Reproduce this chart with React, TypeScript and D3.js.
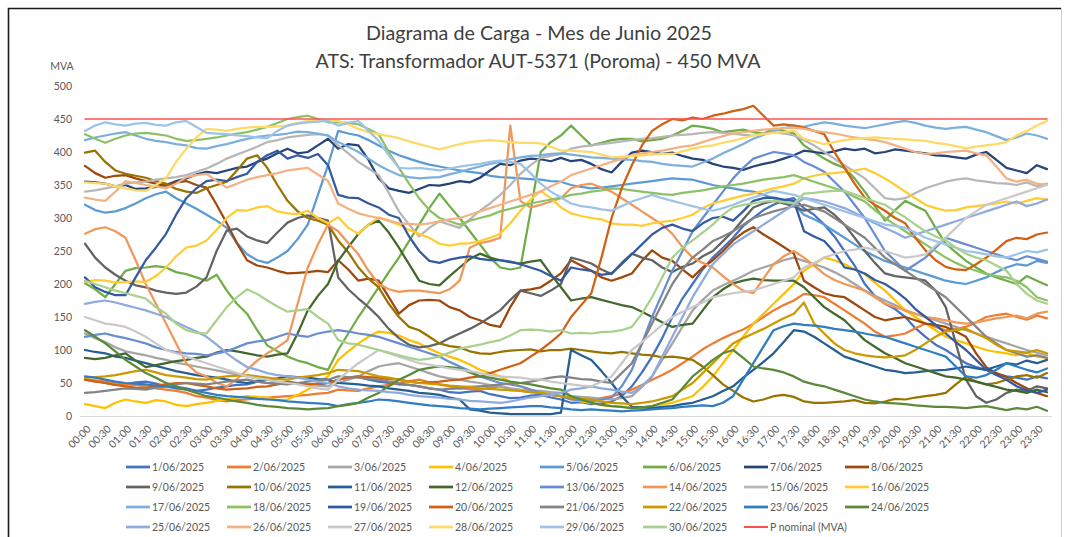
import React from "react";
import * as d3 from "d3";

const TITLE_1 = "Diagrama de Carga - Mes de Junio 2025";
const TITLE_2 = "ATS: Transformador AUT-5371 (Poroma) - 450 MVA";
const Y_UNIT = "MVA";
const Y_TICKS = [0, 50, 100, 150, 200, 250, 300, 350, 400, 450, 500];
const P_NOMINAL = 450;

const CATEGORIES = [
  "00:00","00:15","00:30","00:45","01:00","01:15","01:30","01:45","02:00","02:15","02:30","02:45",
  "03:00","03:15","03:30","03:45","04:00","04:15","04:30","04:45","05:00","05:15","05:30","05:45",
  "06:00","06:15","06:30","06:45","07:00","07:15","07:30","07:45","08:00","08:15","08:30","08:45",
  "09:00","09:15","09:30","09:45","10:00","10:15","10:30","10:45","11:00","11:15","11:30","11:45",
  "12:00","12:15","12:30","12:45","13:00","13:15","13:30","13:45","14:00","14:15","14:30","14:45",
  "15:00","15:15","15:30","15:45","16:00","16:15","16:30","16:45","17:00","17:15","17:30","17:45",
  "18:00","18:15","18:30","18:45","19:00","19:15","19:30","19:45","20:00","20:15","20:30","20:45",
  "21:00","21:15","21:30","21:45","22:00","22:15","22:30","22:45","23:00","23:15","23:30","23:45"
];

const TICK_LABELS = [
  "00:00","00:30","01:00","01:30","02:00","02:30","03:00","03:30","04:00","04:30","05:00","05:30",
  "06:00","06:30","07:00","07:30","08:00","08:30","09:00","09:30","10:00","10:30","11:00","11:30",
  "12:00","12:30","13:00","13:30","14:00","14:30","15:00","15:30","16:00","16:30","17:00","17:30",
  "18:00","18:30","19:00","19:30","20:00","20:30","21:00","21:30","22:00","22:30","23:00","23:30"
];

const S01 = [55,53,50,47,48,51,52,49,45,44,42,38,40,43,45,47,48,52,50,49,52,50,48,47,50,55,58,60,55,52,50,48,47,45,42,40,36,35,37,38,33,30,27,28,31,32,28,25,20,21,18,19,22,30,45,66,90,118,150,178,200,222,240,255,270,288,300,312,320,327,330,315,305,290,272,250,228,200,182,170,162,150,133,120,108,100,90,80,74,70,64,60,58,55,60,57];
const S02 = [55,54,52,49,48,47,45,42,40,38,35,30,28,24,22,24,25,27,28,29,30,31,32,34,35,40,39,38,42,45,47,50,53,55,51,48,45,42,41,40,43,45,41,38,36,35,32,30,28,27,25,27,30,34,40,47,55,62,70,80,90,101,110,118,125,131,140,150,160,168,175,185,183,180,170,160,150,140,128,120,122,125,133,140,135,130,132,135,142,150,153,155,150,146,152,148];
const S03 = [125,118,112,104,98,95,92,88,85,81,78,75,72,69,66,63,60,57,55,52,50,49,48,46,45,50,55,60,68,75,78,80,75,70,65,60,57,55,52,50,47,45,42,40,39,38,36,35,30,29,28,26,25,27,30,44,60,85,110,135,160,176,190,198,205,212,220,225,230,236,240,235,230,225,218,210,200,190,182,175,168,160,155,150,145,140,135,130,125,120,115,110,105,100,96,92];
const S04 = [18,15,12,20,25,22,20,24,22,17,15,18,20,23,25,28,30,29,28,24,25,32,40,50,60,85,98,110,120,128,126,122,115,110,102,95,90,85,78,70,65,60,52,45,40,35,33,30,25,22,20,17,15,14,12,13,15,18,20,25,30,44,60,80,100,120,140,155,170,185,200,220,230,240,236,230,222,215,202,190,175,160,150,140,130,120,115,110,105,100,97,95,92,96,90,88];
const S05 = [320,312,308,310,315,322,330,336,340,330,322,314,305,296,285,262,245,236,232,240,250,268,290,335,380,432,428,425,418,410,402,395,390,385,381,378,375,372,370,368,364,362,361,360,359,358,356,355,350,347,345,346,348,350,352,354,356,358,360,359,358,354,350,347,345,342,340,335,330,325,320,305,298,290,280,270,260,250,242,235,230,225,220,215,210,205,202,200,205,210,218,225,230,228,235,232];
const S06 = [201,192,180,200,220,224,225,227,225,218,215,210,205,214,190,170,155,130,107,98,90,84,80,74,70,100,125,150,172,195,218,240,265,290,315,337,318,300,280,260,240,225,222,225,310,400,415,425,440,425,410,414,418,420,420,416,418,420,425,432,440,438,435,430,432,434,430,428,435,432,428,410,400,390,382,376,360,340,318,296,312,326,318,311,285,261,248,235,225,216,210,205,200,212,205,198];
const S07 = [355,354,352,348,350,344,345,347,350,356,360,366,370,368,372,376,378,385,390,398,405,398,400,410,420,405,412,410,388,360,345,341,338,344,350,349,352,356,354,361,372,382,380,387,390,389,386,391,386,388,382,374,369,385,399,402,400,397,399,394,390,388,382,378,376,373,378,382,385,390,395,402,400,398,401,405,403,405,398,400,404,402,400,398,395,394,392,390,396,400,388,376,372,368,380,374];
const S08 = [379,368,361,364,365,360,356,352,349,354,356,350,346,320,292,262,236,228,225,220,216,217,218,220,218,236,222,205,208,205,180,155,168,175,176,175,165,160,150,145,138,135,165,190,192,195,205,216,236,228,220,210,205,210,216,235,251,240,235,222,210,225,236,250,266,278,286,275,266,256,246,205,195,186,182,180,170,160,150,145,148,150,145,140,138,135,128,120,95,74,65,59,50,42,35,30];
const S09 = [261,240,225,214,205,198,195,190,187,185,187,196,210,250,281,284,272,266,262,278,293,300,304,300,296,210,192,178,165,150,132,118,108,104,106,110,118,125,132,140,150,160,176,190,186,182,190,200,240,236,231,222,215,232,246,240,236,225,218,226,231,242,250,265,280,298,316,322,326,322,318,311,314,316,305,290,270,250,232,216,212,210,208,205,190,165,110,55,30,20,25,35,40,38,45,42];
const S10 = [399,402,385,372,367,364,361,356,352,344,340,338,345,350,355,372,390,395,376,350,326,310,300,296,290,266,248,225,208,195,170,150,135,130,120,110,106,104,98,95,94,97,99,100,101,98,100,100,102,100,98,96,95,97,95,93,92,89,90,88,85,75,62,48,38,28,22,25,30,32,29,22,20,20,21,22,24,20,19,22,26,25,28,30,32,35,48,60,52,48,50,55,60,62,58,65];
const S11 = [100,97,95,90,88,84,80,76,72,68,65,62,60,58,55,52,50,53,55,57,60,59,58,56,55,50,49,48,46,45,42,40,38,35,34,32,28,25,10,8,5,4,3,3,3,3,3,5,100,92,85,68,50,30,14,13,12,14,15,18,20,25,30,38,45,58,70,82,95,112,130,128,120,110,100,90,85,80,75,70,68,65,66,68,69,70,72,75,72,70,75,80,78,84,80,85];
const S12 = [88,86,88,92,95,84,74,77,80,83,85,88,90,96,100,98,95,92,90,93,95,125,160,182,200,235,256,276,290,296,278,255,230,205,200,198,212,225,238,246,240,236,233,231,234,236,215,195,175,178,180,176,172,168,165,158,150,142,135,138,140,160,180,192,201,205,208,206,205,205,205,195,180,165,155,145,130,115,105,95,88,80,75,70,65,60,58,55,52,48,44,40,38,35,40,36];
const S13 = [120,123,125,121,118,114,110,104,100,97,95,94,92,95,98,104,110,113,115,120,125,122,120,125,128,130,128,125,123,120,115,110,105,100,95,90,82,75,68,60,55,50,48,45,40,35,32,30,25,24,22,25,28,45,70,110,150,185,220,250,280,300,320,340,360,376,390,395,400,398,395,385,378,370,355,340,320,300,275,250,235,220,230,240,255,270,265,260,255,250,245,240,236,242,238,234];
const S14 = [276,283,286,280,270,236,200,170,140,110,80,66,60,50,45,56,70,84,95,104,115,170,225,260,290,280,262,245,220,200,192,188,190,190,188,186,192,205,255,262,265,270,440,326,316,320,325,330,345,350,352,346,340,330,320,310,300,290,276,256,240,232,225,212,200,190,186,208,230,242,250,240,228,215,206,200,195,190,180,170,165,160,155,150,148,145,142,140,142,145,148,150,152,148,155,158];
const S15 = [340,342,345,348,352,354,355,358,360,362,365,370,375,382,390,396,402,408,415,418,422,424,426,427,425,410,398,385,375,365,338,310,290,272,285,295,290,285,298,311,322,335,350,367,380,391,394,397,405,408,410,412,414,416,418,420,421,423,425,426,427,429,430,429,428,426,425,428,430,428,425,418,410,400,390,380,370,360,345,330,328,330,338,345,350,355,358,360,357,355,353,352,350,354,348,352];
const S16 = [203,206,205,202,203,204,203,212,225,242,255,258,266,282,300,312,311,316,318,310,307,306,311,300,292,301,285,276,290,301,296,290,282,276,270,261,258,261,262,265,270,276,292,311,328,341,330,316,307,303,300,298,292,290,290,288,292,294,296,300,305,315,322,326,330,334,337,341,345,348,352,360,364,367,368,370,372,375,368,360,350,340,330,320,315,311,312,316,318,320,322,325,322,326,330,328];
const S17 = [418,422,425,428,430,425,420,417,415,412,410,406,405,409,412,416,420,423,425,426,428,431,430,428,425,415,408,400,390,380,372,365,362,360,361,362,366,370,374,378,382,385,389,392,394,395,397,398,396,394,392,391,390,389,388,386,385,382,380,379,378,384,390,398,405,412,420,426,432,436,440,438,442,445,443,440,438,436,439,442,445,447,444,440,437,435,437,438,434,430,424,418,422,428,425,420];
const S18 = [427,420,414,420,425,428,429,427,425,420,417,418,420,422,425,428,430,434,438,444,450,453,455,450,445,445,444,442,435,427,400,376,352,330,312,300,295,290,296,300,304,310,314,318,322,325,328,331,335,337,340,342,345,344,342,340,338,336,335,338,340,342,345,348,350,352,355,358,360,362,365,360,355,350,345,340,332,325,312,300,290,280,270,260,250,240,232,225,220,215,212,210,205,195,180,175];
const S19 = [210,195,188,183,183,210,236,255,276,305,330,345,356,358,356,362,367,385,395,402,390,395,391,397,380,335,331,330,322,316,305,300,272,250,235,232,237,240,242,238,236,236,234,230,225,220,212,205,225,222,220,214,216,230,245,260,275,285,290,284,280,292,300,302,296,310,326,330,331,328,326,280,272,265,248,225,222,216,206,200,190,178,162,150,138,125,112,100,85,70,62,55,45,39,35,40];
const S20 = [55,52,50,47,45,43,42,46,48,50,50,47,45,42,40,41,42,44,45,48,50,49,48,49,50,55,58,60,59,58,56,55,52,50,51,52,54,55,58,60,65,70,75,80,90,100,112,125,150,168,186,240,300,345,380,410,432,442,450,448,452,450,455,458,462,465,470,455,440,442,440,437,432,427,400,376,352,331,320,311,300,292,270,251,236,226,222,221,230,240,252,265,270,268,275,278];
const S21 = [35,36,38,40,42,41,40,43,45,48,50,49,48,50,52,54,55,52,50,49,48,50,52,54,55,60,59,58,56,55,52,50,47,45,42,40,41,42,44,45,46,48,49,50,52,55,58,60,58,56,55,52,50,65,80,110,140,170,200,222,240,252,265,272,280,290,300,305,310,314,318,320,315,310,300,290,280,270,255,240,230,220,210,200,190,180,165,150,135,120,110,100,95,90,92,88];
const S22 = [58,59,60,62,65,68,70,66,62,60,58,56,55,58,60,61,62,60,58,56,55,58,60,62,65,70,69,68,64,60,58,55,52,50,49,48,46,45,44,42,41,40,39,38,36,35,32,30,28,26,25,22,20,19,18,20,22,26,30,40,50,65,80,95,110,118,125,132,140,148,155,172,140,125,110,100,95,92,90,89,90,92,100,110,120,128,130,132,125,118,108,100,98,96,100,95];
const S23 = [60,58,55,52,50,49,48,46,45,42,40,38,35,32,30,29,28,26,25,24,22,21,20,19,18,15,18,20,22,25,24,22,20,18,16,15,14,12,11,10,11,12,13,14,15,15,13,12,10,9,10,9,8,7,8,9,10,11,12,14,15,16,15,20,30,55,80,105,130,136,140,138,137,135,132,130,128,125,122,120,115,110,105,100,95,90,75,60,58,62,70,80,75,70,66,72];
const S24 = [130,120,110,98,85,75,65,58,50,45,40,35,30,28,25,22,20,17,15,14,12,11,10,11,12,15,17,20,28,35,45,55,62,70,73,75,74,72,66,60,58,55,52,50,48,45,42,40,30,25,20,17,15,14,12,13,15,20,25,42,60,72,85,95,100,88,75,72,70,66,60,52,48,45,40,35,30,25,22,20,19,18,16,15,14,14,13,12,14,15,12,9,12,10,14,8];
const S25 = [170,173,175,172,168,164,160,155,150,142,135,128,120,108,95,84,74,70,65,62,60,58,55,52,50,45,42,40,39,38,36,35,32,30,29,28,26,25,23,22,21,20,22,25,28,30,32,35,40,42,45,42,40,37,35,45,60,90,120,150,180,205,230,245,260,270,280,290,300,310,320,330,328,325,320,315,308,300,292,285,278,270,275,280,285,290,295,300,305,310,315,320,325,318,322,328];
const S26 = [331,328,326,340,356,353,350,348,345,352,362,365,367,356,346,352,358,362,365,368,372,374,376,366,356,322,314,307,303,300,296,292,291,290,292,295,298,300,305,310,315,320,325,330,335,340,348,355,365,370,375,380,385,390,395,398,400,402,405,408,410,415,420,424,428,430,432,434,435,436,437,435,432,430,428,425,422,420,418,415,410,405,400,397,398,400,401,402,398,395,378,360,355,358,352,350];
const S27 = [150,145,140,138,135,128,120,110,100,95,90,85,80,75,70,65,60,57,55,52,50,48,45,42,40,55,68,80,90,100,95,90,85,80,78,75,72,70,68,65,62,60,59,58,56,55,52,50,48,46,45,52,60,80,100,112,125,138,150,158,165,172,180,183,186,188,190,195,200,205,210,225,232,240,245,250,252,255,252,250,245,240,242,245,258,270,285,300,310,320,325,330,335,340,345,350];
const S28 = [354,353,352,348,345,342,341,350,360,385,405,422,435,434,432,435,437,438,438,439,440,444,447,448,447,447,442,435,430,427,424,421,416,412,408,404,408,412,415,417,418,417,415,414,414,413,408,402,402,401,400,396,392,393,394,395,396,397,397,401,405,408,410,414,417,421,425,427,429,430,432,420,416,412,415,418,420,421,422,421,420,419,418,417,414,412,409,406,408,410,412,415,425,432,440,447];
const S29 = [432,440,445,442,440,443,444,441,440,445,447,438,429,428,427,425,424,422,421,432,440,443,445,446,447,440,444,447,432,417,395,376,375,376,374,372,375,378,380,382,385,387,385,382,368,352,340,331,322,318,316,313,311,318,325,330,335,330,326,322,318,314,311,315,320,326,331,336,341,338,335,330,325,320,315,310,305,300,295,290,288,285,278,270,265,260,255,250,248,245,242,240,245,250,248,252];
const S30 = [205,200,195,190,186,182,178,165,155,140,130,126,125,145,165,180,192,185,175,166,158,160,162,150,140,115,110,108,104,100,96,92,88,85,87,90,96,102,105,108,112,115,122,130,131,130,128,130,125,126,125,127,128,130,135,155,180,210,240,255,266,278,290,305,316,320,322,325,326,324,322,337,338,340,341,341,336,330,325,320,310,301,290,280,272,266,255,246,240,236,228,220,200,185,175,170];

const SERIES_NAMES = [
  "1/06/2025","2/06/2025","3/06/2025","4/06/2025","5/06/2025","6/06/2025","7/06/2025","8/06/2025",
  "9/06/2025","10/06/2025","11/06/2025","12/06/2025","13/06/2025","14/06/2025","15/06/2025","16/06/2025",
  "17/06/2025","18/06/2025","19/06/2025","20/06/2025","21/06/2025","22/06/2025","23/06/2025","24/06/2025",
  "25/06/2025","26/06/2025","27/06/2025","28/06/2025","29/06/2025","30/06/2025"
];
const SERIES_COLORS = [
  "#4472C4","#ED7D31","#A5A5A5","#FFC000","#5B9BD5","#70AD47","#264478","#9E480E",
  "#636363","#997300","#255E91","#43682B","#698ED0","#F1975A","#B7B7B7","#FFCD33",
  "#7CAFDD","#8CC168","#335AA1","#D26012","#848484","#CC9A00","#327DC2","#5A8A39",
  "#8FAADC","#F4B183","#C9C9C9","#FFD966","#9DC3E6","#A9D18E"
];
const SERIES_VALUES = [S01,S02,S03,S04,S05,S06,S07,S08,S09,S10,S11,S12,S13,S14,S15,S16,S17,S18,S19,S20,S21,S22,S23,S24,S25,S26,S27,S28,S29,S30];
const NOMINAL_NAME = "P nominal (MVA)";
const NOMINAL_COLOR = "#FF5050";

const FONT = "Lato, 'Open Sans', 'Liberation Sans', sans-serif";
const TEXT_COLOR = "#595959";

const W = 1067;
const H = 537;
const PLOT = { left: 85, right: 1047, top: 86, bottom: 416 };
const LEGEND_COLS = [126, 227, 328, 429, 540, 643, 744, 845];
const LEGEND_ROWS = [467, 487, 507, 527];

export default function App() {
  const x = d3.scalePoint<string>().domain(CATEGORIES).range([PLOT.left, PLOT.right]);
  const y = d3.scaleLinear().domain([0, 500]).range([PLOT.bottom, PLOT.top]);
  const line = d3
    .line<number>()
    .x((_, i) => x(CATEGORIES[i]) as number)
    .y((d) => y(d));

  const nominal = CATEGORIES.map(() => P_NOMINAL);

  const legendItems = [
    ...SERIES_NAMES.map((n, i) => ({ name: n, color: SERIES_COLORS[i], w: 2.25 })),
    { name: NOMINAL_NAME, color: NOMINAL_COLOR, w: 1.5 },
  ];

  return (
    <svg
      width={W}
      height={H}
      style={{ position: "absolute", left: 0, top: 0, display: "block", background: "#fff" }}
      fontFamily={FONT}
    >
      <rect x={0} y={0} width={W} height={H} fill="#fff" />
      <path d={`M8.5,${H} V8.5 H1061`} fill="none" stroke="#1a1a1a" strokeWidth={1.6} />
      <line x1={1061.5} x2={1061.5} y1={8} y2={H} stroke="#cfcfcf" strokeWidth={1} />

      <text x={539} y={40} textAnchor="middle" fontSize={20} fill="#404040" textLength={346} lengthAdjust="spacingAndGlyphs">
        {TITLE_1}
      </text>
      <text x={538} y={68} textAnchor="middle" fontSize={20} fill="#404040" textLength={445} lengthAdjust="spacingAndGlyphs">
        {TITLE_2}
      </text>

      <text x={62} y={70} textAnchor="middle" fontSize={10.5} fill={TEXT_COLOR}>
        {Y_UNIT}
      </text>

      {Y_TICKS.map((t) => (
        <text key={t} x={72} y={y(t)} dy="0.35em" textAnchor="end" fontSize={10.5} fill={TEXT_COLOR}>
          {t}
        </text>
      ))}

      <line x1={80} x2={1052} y1={PLOT.bottom + 0.5} y2={PLOT.bottom + 0.5} stroke="#D9D9D9" strokeWidth={1} />

      {TICK_LABELS.map((t) => {
        const px = x(t) as number;
        return (
          <text
            key={t}
            transform={`translate(${px + 4},${PLOT.bottom + 11}) rotate(-45)`}
            textAnchor="end"
            dy="0.35em"
            fontSize={10.5}
            fill={TEXT_COLOR}
          >
            {t}
          </text>
        );
      })}

      <g fill="none" strokeLinejoin="round" strokeLinecap="round">
        {SERIES_VALUES.map((vals, i) => (
          <path key={i} d={line(vals) || ""} stroke={SERIES_COLORS[i]} strokeWidth={2.25} />
        ))}
        <path d={line(nominal) || ""} stroke={NOMINAL_COLOR} strokeWidth={1.5} />
      </g>

      {legendItems.map((it, k) => {
        const col = k % 8;
        const row = Math.floor(k / 8);
        const lx = LEGEND_COLS[col];
        const ly = LEGEND_ROWS[row];
        return (
          <g key={it.name}>
            <line x1={lx} x2={lx + 24} y1={ly} y2={ly} stroke={it.color} strokeWidth={it.w + 0.5} />
            <text x={lx + 26} y={ly} dy="0.35em" fontSize={10.5} fill={TEXT_COLOR}>
              {it.name}
            </text>
          </g>
        );
      })}
    </svg>
  );
}
